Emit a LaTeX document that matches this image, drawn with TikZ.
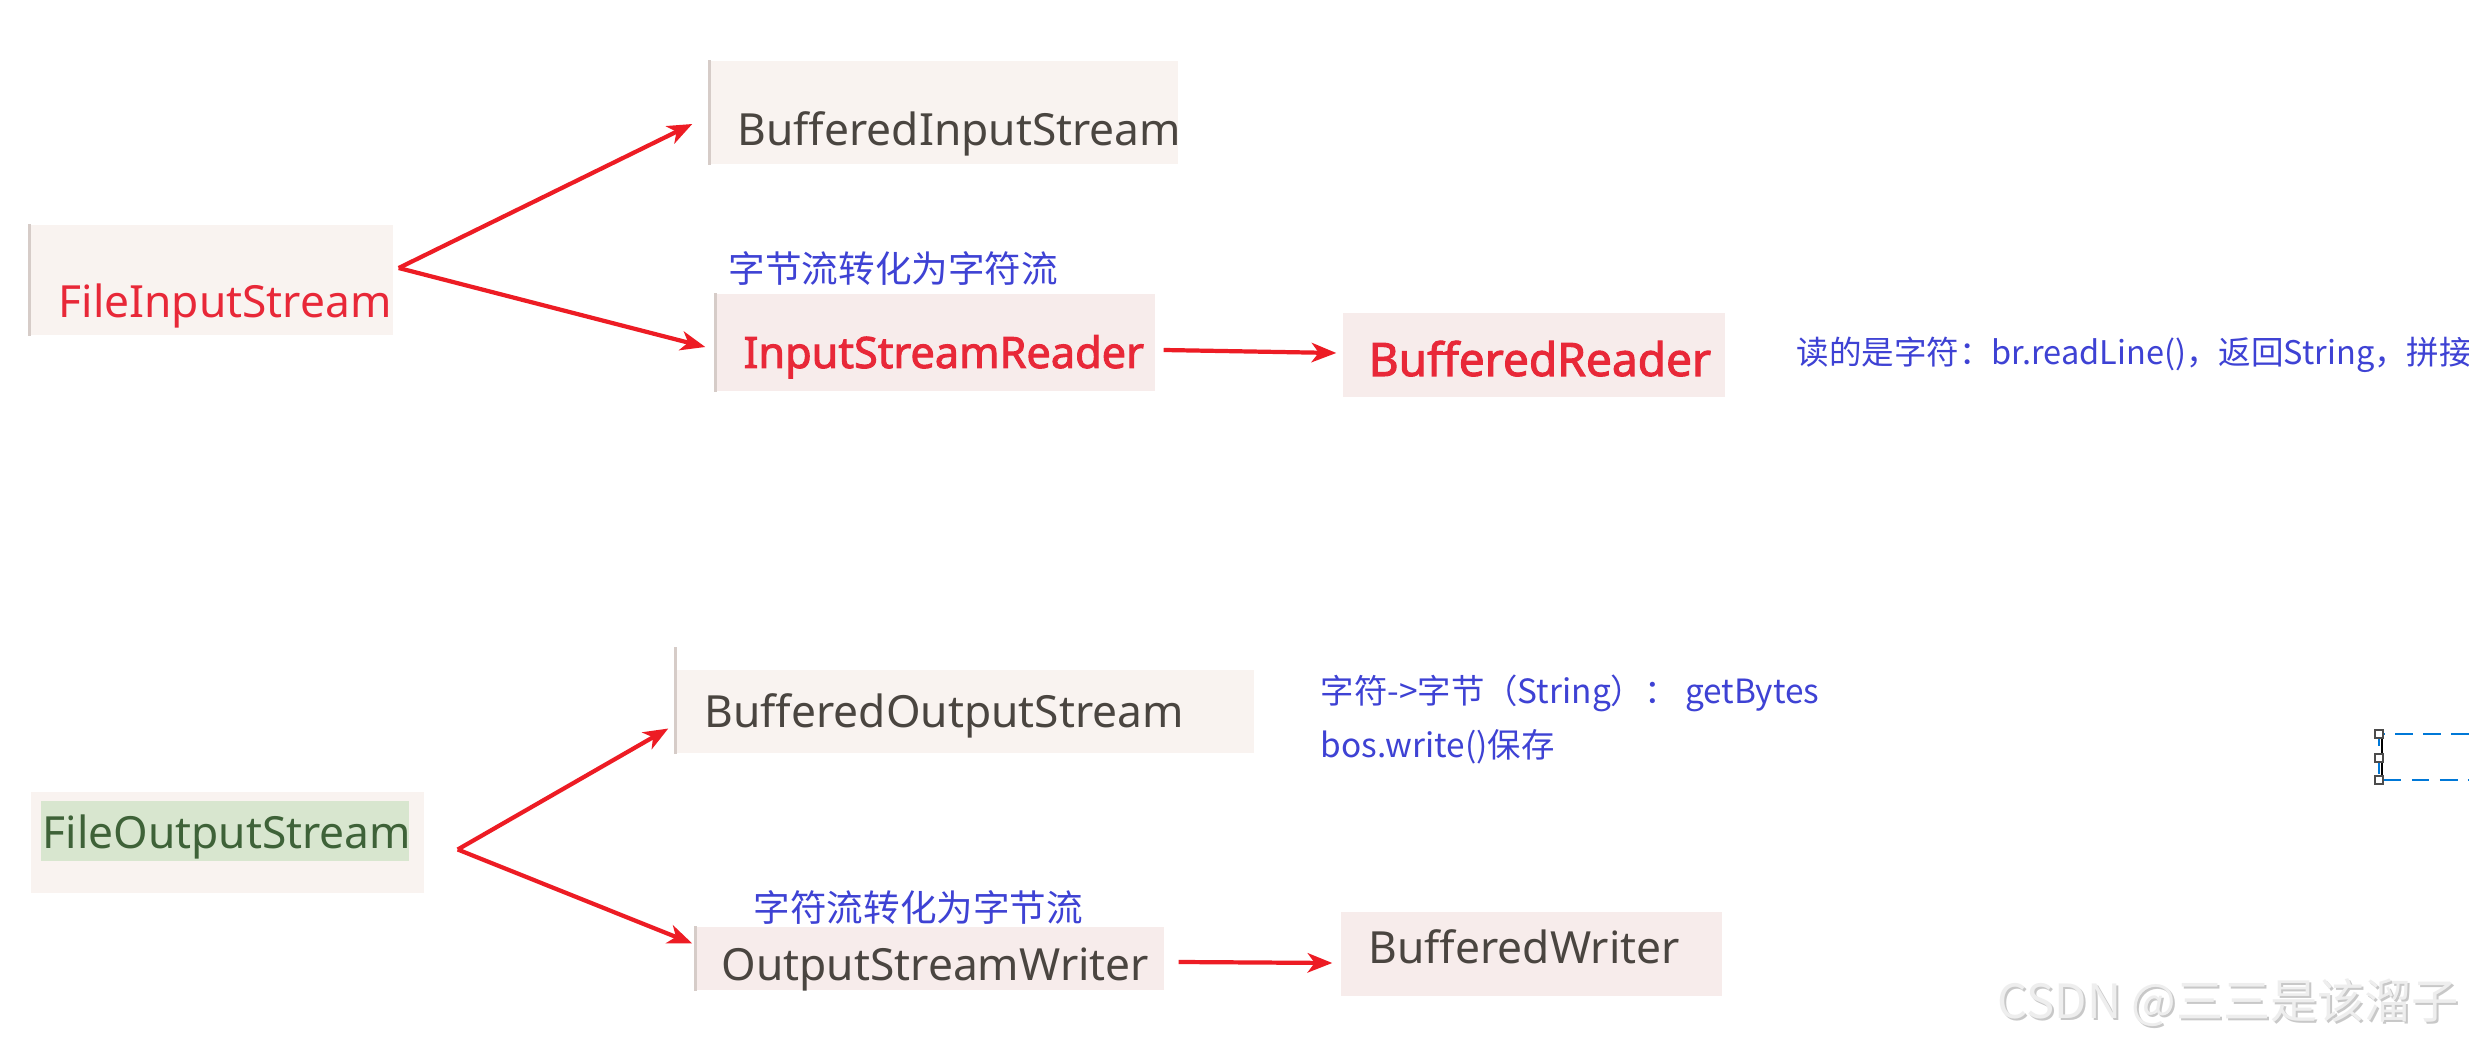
\documentclass[tikz,border=0pt]{standalone}
\usepackage{fontspec}
\setmainfont{Noto Sans}
\newfontfamily\bsans[FakeBold=2.2]{Noto Sans}
\newfontfamily\cjk{Noto Sans CJK SC}
\usetikzlibrary{fit,calc,arrows.meta}
\definecolor{boxfill}{RGB}{249,243,240}
\definecolor{boxpink}{RGB}{247,236,235}
\definecolor{edgegray}{RGB}{214,204,200}
\definecolor{txtred}{RGB}{232,40,56}
\definecolor{txtdark}{RGB}{74,69,64}
\definecolor{txtgreen}{RGB}{62,98,56}
\definecolor{greenbg}{RGB}{216,230,207}
\definecolor{arrred}{RGB}{237,28,36}
\definecolor{noteblue}{RGB}{62,66,212}
\definecolor{dashblue}{RGB}{0,120,215}
\definecolor{wmfill}{RGB}{238,238,238}
\definecolor{wmshade}{RGB}{200,200,200}
\tikzset{
  bx/.style={fill=boxfill, draw=none, inner sep=0pt},
  bxpink/.style={fill=boxpink, draw=none, inner sep=0pt},
  edgeline/.style={draw=edgegray, line width=0.7pt},
  lbl/.style={inner sep=0pt, anchor=base west},
  reg/.style={lbl, font=\fontsize{12.6pt}{15pt}\selectfont},
  boldred/.style={lbl, text=txtred, font=\bsans\fontsize{12.3pt}{15pt}\selectfont},
  note/.style={lbl, text=noteblue, font=\cjk\fontsize{9.5pt}{12pt}\selectfont},
  arr/.style={draw=arrred, line width=1.2pt, -{Stealth[length=7pt,width=5.5pt,inset=2pt]}},
  handle/.style={draw=black!70, fill=white, line width=0.5pt}
}
\begin{document}
\begin{tikzpicture}[x=0.01cm,y=-0.01cm]
\useasboundingbox (0,0) rectangle (2469,1046);
\fill[white] (0,0) rectangle (2469,1046);

% ---------- boxes ----------
\node[bx, fit={(30,225)(393,335)}] (fis) {};
\draw[edgeline] (fis.north west) -- (fis.south west);
\node[bx, fit={(710,61)(1178,164)}] (bis) {};
\draw[edgeline] (bis.north west) -- (bis.south west);
\node[bxpink, fit={(716,294)(1155,391)}] (isr) {};
\draw[edgeline] (isr.north west) -- (isr.south west);
\node[bxpink, fit={(1343,313)(1725,397)}] (br) {};

\node[bx, fit={(31,792)(424,893)}] (fos) {};
\node[fill=greenbg, inner sep=0pt, fit={(41,801)(409,861)}] (fosg) {};
\node[bx, fit={(676,670)(1254,753)}] (bos) {};
\draw[edgeline] ($(bos.north west)+(0,-22)$) -- (bos.south west);
\node[bxpink, fit={(696,927)(1164,990)}] (osw) {};
\draw[edgeline] (osw.north west) -- (osw.south west);
\node[bxpink, fit={(1341,912)(1722,996)}] (bw) {};

% ---------- texts ----------
\node[reg, text=txtred] (fist) at (58,318) {FileInputStream};
\node[reg, text=txtdark] (bist) at (737,146) {BufferedInputStream};
\node[boldred] (isrt) at (743,368) {InputStreamReader};
\node[boldred, font=\bsans\fontsize{13.1pt}{16pt}\selectfont] (brt) at (1368,376) {BufferedReader};
\node[reg, text=txtgreen] (fost) at (42,848) {FileOutputStream};
\node[reg, text=txtdark] (bost) at (704,728) {BufferedOutputStream};
\node[reg, text=txtdark] (oswt) at (721,980) {OutputStreamWriter};
\node[reg, text=txtdark] (bwt) at (1368,963) {BufferedWriter};

% ---------- notes ----------
\node[note, font=\cjk\fontsize{10.4pt}{12pt}\selectfont] (n1) at (728,283) {字节流转化为字符流};
\node[note, font=\cjk\fontsize{9.25pt}{12pt}\selectfont] (n2) at (1796,365) {读的是字符：br.readLine()，返回String，拼接};
\node[note] (n3) at (1320,703) {字符->字节（String）： getBytes};
\node[note] (n4) at (1320,757) {bos.write()保存};
\node[note, font=\cjk\fontsize{10.4pt}{12pt}\selectfont] (n5) at (753,921) {字符流转化为字节流};

% ---------- arrows ----------
\coordinate (fisout) at ($(fis.east)+(5,-12)$);
\draw[arr] (fisout) -- ($(bis.west)+(-17,11.5)$);
\draw[arr] (fisout) -- ($(isr.west)+(-10,4.5)$);
\draw[arr] ($(isr.east)+(8,7.5)$) -- ($(br.west)+(-6,-2)$);
\coordinate (fosout) at ($(fos.east)+(33,7)$);
\draw[arr] (fosout) -- ($(bos.west)+(-7,17)$);
\draw[arr] (fosout) -- ($(osw.west)+(-3,-15)$);
\draw[arr] ($(osw.east)+(14,3.5)$) -- ($(bw.west)+(-8,9)$);

% ---------- selection frame at right ----------
\draw[dashblue, line width=0.5pt, dash pattern=on 5pt off 3pt] (2469,734) -- (2379,734) -- (2379,780) -- (2469,780);
\draw[black, line width=0.8pt] (2382,737) -- (2382,778);
\draw[handle] (2375,730) rectangle (2383,738);
\draw[handle] (2375,754) rectangle (2383,762);
\draw[handle] (2375,776) rectangle (2383,784);

% ---------- watermark ----------
\node[lbl, text=wmshade, font=\cjk\fontsize{13.4pt}{16pt}\selectfont] (wms) at (1999,1020) {CSDN @三三是该溜子};
\node[lbl, text=wmfill, font=\cjk\fontsize{13.4pt}{16pt}\selectfont] (wm) at (1997,1018) {CSDN @三三是该溜子};
\end{tikzpicture}
\end{document}
